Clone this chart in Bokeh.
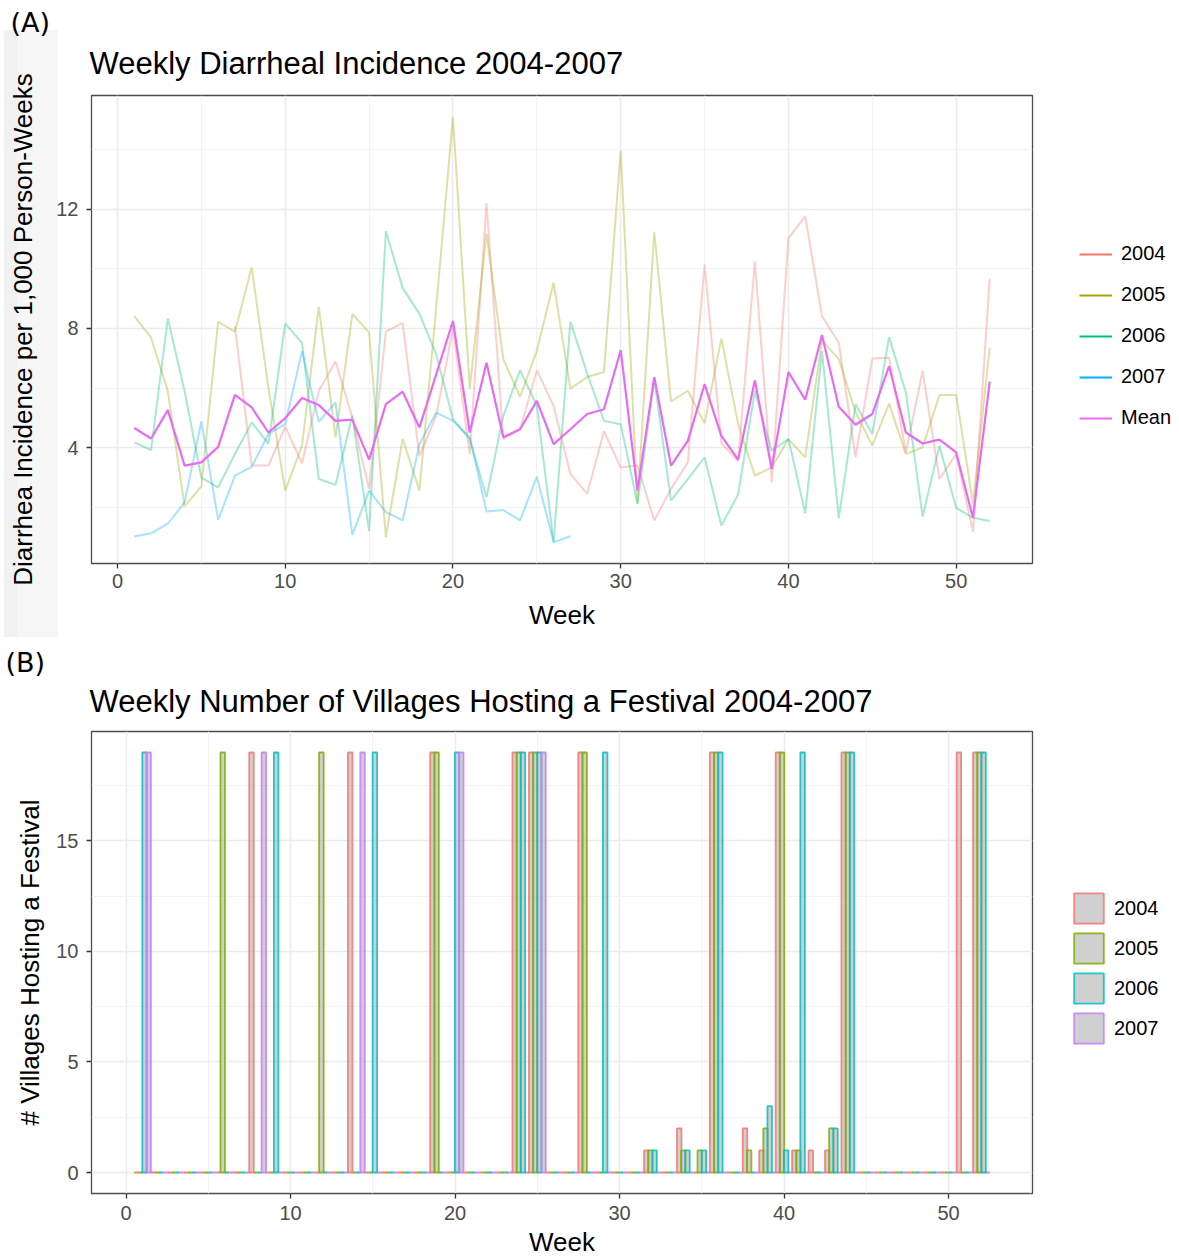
import math
from bokeh.plotting import figure
from bokeh.models import Range1d, FixedTicker, Legend, LegendItem, Title, Div
from bokeh.layouts import column
from bokeh.embed import file_html
from bokeh.resources import INLINE

# ---------------- data: panel A (weekly incidence per 1,000 person-weeks) -------------
weeks = list(range(1, 53))
weeks_2004 = list(range(7, 53))
weeks_2007 = list(range(1, 28))

inc_2004 = [8.08, 3.40, 3.40, 4.70, 3.48, 5.91, 6.89, 5.0, 2.62, 7.89, 8.19, 3.73, 5.07,
            8.0, 3.79, 12.2, 4.29, 4.62, 6.60, 5.40, 3.12, 2.45, 4.55, 3.34, 3.40, 1.56,
            2.62, 3.51, 10.14, 4.15, 3.55, 10.25, 2.84, 11.03, 11.76, 8.41, 7.52, 3.68,
            6.99, 7.02, 3.84, 6.58, 2.95, 3.79, 1.17, 9.67]
inc_2005 = [8.41, 7.69, 5.9, 2.03, 2.70, 8.23, 7.89, 10.05, 6.0, 2.56, 4.07, 8.72, 4.35,
            8.49, 7.86, 1.0, 4.3, 2.56, 8.7, 15.1, 5.98, 11.17, 6.97, 5.71, 7.25, 9.53,
            5.98, 6.37, 6.54, 13.96, 2.12, 11.24, 5.55, 5.91, 4.82, 7.66, 4.8, 3.06, 3.34,
            4.29, 3.68, 7.60, 6.97, 5.2, 4.07, 5.48, 3.79, 4.01, 5.77, 5.77, 2.12, 7.36]
inc_2006 = [4.18, 3.92, 8.33, 5.9, 3.0, 2.67, 3.79, 4.85, 4.14, 8.16, 7.52, 2.95, 2.76,
            5.07, 1.20, 11.26, 9.36, 8.49, 7.13, 4.96, 4.29, 2.34, 5.07, 6.60, 5.40, 0.83,
            8.23, 6.49, 4.90, 4.79, 2.12, 6.30, 2.23, 2.95, 3.68, 1.39, 2.43, 5.91, 3.90,
            4.29, 1.80, 7.24, 1.63, 5.46, 4.46, 7.71, 5.85, 1.69, 4.07, 1.98, 1.65, 1.54]
inc_2007 = [1.02, 1.13, 1.45, 2.17, 4.88, 1.58, 3.06, 3.36, 4.46, 4.79, 7.24, 4.87, 5.52,
            1.08, 2.56, 1.84, 1.56, 4.12, 5.18, 4.90, 4.35, 1.86, 1.91, 1.56, 3.03, 0.83,
            1.03]
inc_mean = [4.66, 4.31, 5.26, 3.40, 3.51, 4.03, 5.77, 5.35, 4.51, 4.99, 5.67, 5.43, 4.90,
            4.94, 3.60, 5.46, 5.88, 4.68, 6.46, 8.25, 4.51, 6.85, 4.35, 4.62, 5.57, 4.12,
            4.62, 5.13, 5.29, 7.27, 2.56, 6.37, 3.40, 4.23, 6.13, 4.40, 3.60, 6.26, 3.29,
            6.54, 5.61, 7.78, 5.37, 4.77, 5.13, 6.74, 4.51, 4.14, 4.27, 3.84, 1.65, 6.22]

a_x_ticks = [0, 10, 20, 30, 40, 50]
a_x_minor = [5, 15, 25, 35, 45]
a_y_ticks = [4, 8, 12]
a_y_minor = [2, 6, 10, 14]

# ---------------- data: panel B (villages hosting a festival) ----------------
years = ["2004", "2005", "2006", "2007"]
fest_weeks_2004 = [8, 14, 19, 24, 25, 28, 32, 34, 36, 38, 39, 40, 41, 42, 43, 44, 51, 52]
fest_count_2004 = [19, 19, 19, 19, 19, 19, 1, 2, 19, 2, 1, 19, 1, 1, 1, 19, 19, 19]
fest_weeks_2005 = [6, 12, 19, 24, 25, 28, 32, 34, 35, 36, 38, 39, 40, 41, 43, 44, 52]
fest_count_2005 = [19, 19, 19, 19, 19, 19, 1, 1, 1, 19, 1, 2, 19, 1, 2, 19, 19]
fest_weeks_2006 = [1, 9, 15, 20, 24, 25, 29, 32, 34, 35, 36, 39, 40, 41, 43, 44, 52]
fest_count_2006 = [19, 19, 19, 19, 19, 19, 19, 1, 1, 1, 19, 3, 1, 19, 2, 19, 19]
fest_weeks_2007 = [1, 8, 14, 20, 25]
fest_count_2007 = [19, 19, 19, 19, 19]

b_x_ticks = [0, 10, 20, 30, 40, 50]
b_x_minor = [5, 15, 25, 35, 45, 55]
b_y_ticks = [0, 5, 10, 15]
b_y_minor = [2.5, 7.5, 12.5, 17.5]

# ---------------- styling ----------------
FONT = "Liberation Sans"
C_LINE = {"2004": "#F8766D", "2005": "#A3A500", "2006": "#00BF7D", "2007": "#00B0F6"}
C_MEAN = "#E76BF3"
C_BAR = {"2004": "#F8766D", "2005": "#7CAE00", "2006": "#00BFC4", "2007": "#C77CFF"}


def expand(lo, hi, f=0.05):
    s = hi - lo
    return lo - f * s, hi + f * s


def style(p, xt, xm, yt, ym, ylabel, ylabel_standoff, xtick_standoff, xlabel_standoff):
    p.outline_line_color = "#4D4D4D"
    p.outline_line_width = 1.3
    p.background_fill_color = "white"
    p.border_fill_color = "white"
    for ax in (p.xaxis[0], p.yaxis[0]):
        ax.axis_line_color = None
        ax.major_tick_line_color = "#333333"
        ax.major_tick_line_width = 1.3
        ax.major_tick_out = 5
        ax.major_tick_in = 0
        ax.minor_tick_line_color = None
        ax.major_label_text_font = FONT
        ax.major_label_text_font_size = "20px"
        ax.major_label_text_color = "#4D4D4D"
        ax.major_label_text_line_height = 1.0
        ax.axis_label_text_font = FONT
        ax.axis_label_text_font_size = "26px"
        ax.axis_label_text_font_style = "normal"
        ax.axis_label_text_color = "black"
        ax.axis_label_text_line_height = 1.0
    p.xaxis[0].ticker = FixedTicker(ticks=xt, minor_ticks=xm)
    p.yaxis[0].ticker = FixedTicker(ticks=yt, minor_ticks=ym)
    p.yaxis[0].major_label_standoff = 8
    p.yaxis[0].axis_label = ylabel
    p.yaxis[0].axis_label_standoff = ylabel_standoff
    p.xaxis[0].axis_label = "Week"
    p.xaxis[0].major_label_standoff = xtick_standoff
    p.xaxis[0].axis_label_standoff = xlabel_standoff
    for g in (p.xgrid[0], p.ygrid[0]):
        g.grid_line_color = "#EBEBEB"
        g.grid_line_width = 1.5
        g.minor_grid_line_color = "#F3F3F3"
        g.minor_grid_line_width = 1.0


def titles(p, main_text, main_standoff, tag_text, tag_offset, tag_standoff):
    # outer title: panel tag "(A)"/"(B)"; inner title (closest to the frame): chart title
    p.title.text = tag_text
    p.title.align = "left"
    p.title.offset = tag_offset
    p.title.standoff = tag_standoff
    p.title.text_font = "DejaVu Sans"
    p.title.text_font_size = "27px"
    p.title.text_font_style = "normal"
    p.title.text_color = "black"
    p.add_layout(Title(text=main_text, align="left", offset=-2, standoff=main_standoff,
                       text_font=FONT, text_font_size="31px", text_font_style="normal",
                       text_color="black"), "above")


# ---------------- panel A ----------------
all_a = inc_2004 + inc_2005 + inc_2006 + inc_2007 + inc_mean
ax_lo, ax_hi = expand(min(weeks), max(weeks))
ay_lo, ay_hi = expand(min(all_a), max(all_a))

pA = figure(frame_width=941, frame_height=468,
            x_range=Range1d(ax_lo, ax_hi), y_range=Range1d(ay_lo, ay_hi),
            output_backend="svg", toolbar_location=None,
            min_border_left=91, min_border_right=145, min_border_top=95, min_border_bottom=85)
style(pA, a_x_ticks, a_x_minor, a_y_ticks, a_y_minor,
      "Diarrhea Incidence per 1,000 Person-Weeks", 15, 5, 9)
titles(pA, "Weekly Diarrheal Incidence 2004-2007", 29, "(A)", -81, -16)

series = [("2004", weeks_2004, inc_2004), ("2005", weeks, inc_2005),
          ("2006", weeks, inc_2006), ("2007", weeks_2007, inc_2007)]
items_a = []
for yr, xs, ys in series:
    pA.line(xs, ys, line_color=C_LINE[yr], line_alpha=0.35, line_width=2)
pA.line(weeks, inc_mean, line_color=C_MEAN, line_width=2.2)
# legend keys drawn at full opacity (single-point renderers draw no mark in the plot)
for yr, xs, ys in series:
    r = pA.line(xs[:1], ys[:1], line_color=C_LINE[yr], line_width=2)
    items_a.append(LegendItem(label=yr, renderers=[r]))
rm = pA.line(weeks[:1], inc_mean[:1], line_color=C_MEAN, line_width=2)
items_a.append(LegendItem(label="Mean", renderers=[rm]))
legA = Legend(items=items_a, location=(47, 134), margin=0, padding=0, spacing=18,
              glyph_width=33, glyph_height=20, label_height=20, label_standoff=9,
              label_text_font=FONT, label_text_font_size="20px", label_text_color="black",
              border_line_color=None, background_fill_alpha=0)
pA.add_layout(legA, "right")

# ---------------- panel B ----------------
slot = 1.0 / len(years)
bars = {"2004": (fest_weeks_2004, fest_count_2004), "2005": (fest_weeks_2005, fest_count_2005),
        "2006": (fest_weeks_2006, fest_count_2006), "2007": (fest_weeks_2007, fest_count_2007)}

bx_lo, bx_hi = expand(min(weeks) - 0.5, max(weeks) + 0.5)
all_counts = fest_count_2004 + fest_count_2005 + fest_count_2006 + fest_count_2007
by_lo, by_hi = expand(0, max(all_counts))

pB = figure(frame_width=941, frame_height=462,
            x_range=Range1d(bx_lo, bx_hi), y_range=Range1d(by_lo, by_hi),
            output_backend="svg", toolbar_location=None,
            min_border_left=91, min_border_right=145, min_border_top=83, min_border_bottom=63)
style(pB, b_x_ticks, b_x_minor, b_y_ticks, b_y_minor, "# Villages Hosting a Festival", 8, 7, 4)
titles(pB, "Weekly Number of Villages Hosting a Festival 2004-2007", 25, "(B)", -86, -16)

# zero-height bars (baseline) first
for k, yr in enumerate(years):
    off = -0.5 + slot * (k + 0.5)
    fw, fc = bars[yr]
    zero_w = [w for w in weeks if w not in fw]
    pB.segment(x0=[w + off - slot / 2 for w in zero_w], x1=[w + off + slot / 2 for w in zero_w],
               y0=[0] * len(zero_w), y1=[0] * len(zero_w), line_color=C_BAR[yr], line_width=2.2,
               line_alpha=0.9)
items_b = []
for k, yr in enumerate(years):
    off = -0.5 + slot * (k + 0.5)
    fw, fc = bars[yr]
    r = pB.vbar(x=[w + off for w in fw], top=fc, bottom=0, width=slot * 1.1,
                fill_color="#B0B0B0", fill_alpha=0.6, line_color=C_BAR[yr], line_width=1.8,
                line_alpha=0.85)
    items_b.append(LegendItem(label=yr, renderers=[r]))
legB = Legend(items=items_b, location=(38, 146), margin=0, padding=0, spacing=2,
              glyph_width=37, glyph_height=38, label_height=38, label_standoff=7,
              label_text_font=FONT, label_text_font_size="20px", label_text_color="black",
              border_line_color=None, background_fill_alpha=0)
pB.add_layout(legB, "right")

# light grey band behind the y-axis title of panel A (overlay, takes no layout space)
band = Div(text='<div style="position:absolute;left:-1px;top:25px;width:54px;height:607px;'
                'background:#000;opacity:0.035;pointer-events:none;"></div>'
                '<div style="position:absolute;left:-1px;top:25px;width:13px;height:607px;'
                'background:#000;opacity:0.02;pointer-events:none;"></div>',
           width=0, height=0,
           styles={"position": "absolute", "left": "0px", "top": "0px", "z-index": "5",
                   "overflow": "visible", "pointer-events": "none"})

layout = column(band, pA, pB)
open("out.html", "w").write(file_html(layout, INLINE))
